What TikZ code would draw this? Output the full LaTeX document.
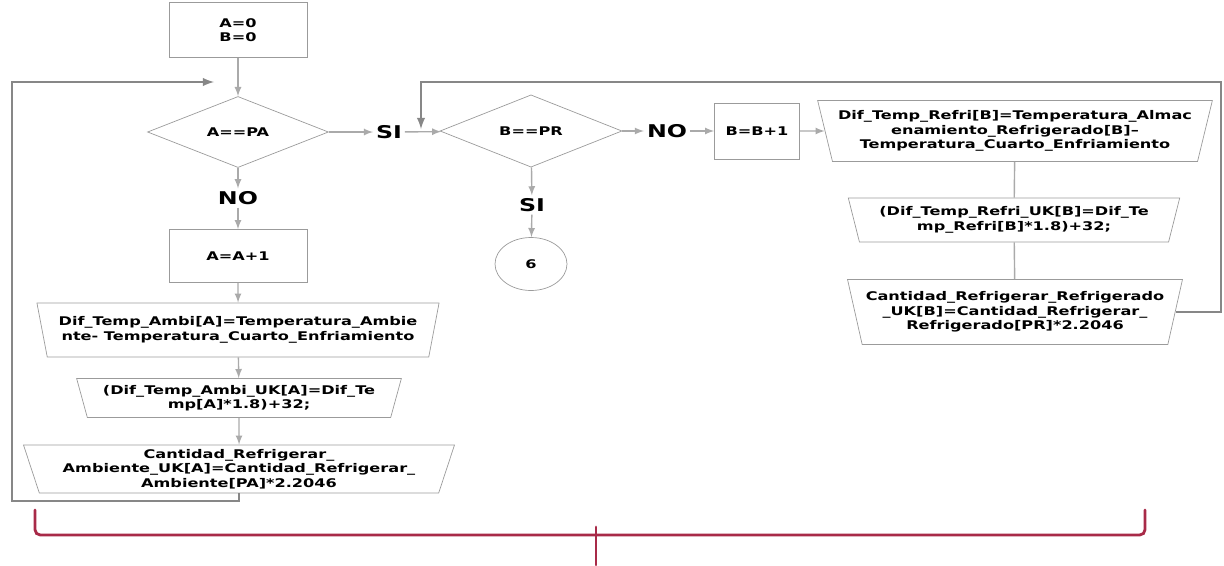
\documentclass[tikz,border=0pt]{standalone}
\usepackage{fontspec}
\setmainfont[FakeStretch=1.35]{DejaVu Sans}
\usetikzlibrary{shapes.geometric}
\definecolor{boxgray}{RGB}{155,155,155}
\definecolor{linegray}{RGB}{170,170,170}
\definecolor{loopgray}{RGB}{135,135,135}
\definecolor{bracered}{RGB}{168,42,72}
\tikzset{
  proc/.style={draw=boxgray,rectangle,inner sep=0pt,align=center,font=\fontsize{6.8}{8.2}\selectfont\bfseries},
  cond/.style={draw=boxgray,diamond,inner sep=0pt,align=center,font=\fontsize{6.8}{8.2}\selectfont\bfseries},
  manual/.style={draw=boxgray,trapezium,trapezium left angle=72,trapezium right angle=72,
    shape border rotate=180,trapezium stretches=true,inner xsep=0pt,inner ysep=1pt,align=center,
    font=\fontsize{6.8}{8.2}\selectfont\bfseries},
  fin/.style={draw=boxgray,ellipse,minimum width=1.44cm,minimum height=1.06cm,inner sep=0pt,
    font=\fontsize{6.8}{8.2}\selectfont\bfseries},
  etiq/.style={inner sep=1.5pt,font=\fontsize{10}{12}\selectfont\bfseries},
  flecha/.style={->,draw=linegray,line width=0.8pt},
  enlace/.style={draw=linegray,line width=0.8pt},
  lazo/.style={->,draw=loopgray,line width=1.2pt},
  llave/.style={draw=bracered,line width=1.6pt,line cap=round},
}
\begin{document}
\begin{tikzpicture}[x=0.02cm,y=-0.02cm,>=latex]
  \useasboundingbox (0,0) rectangle (1224,565);
  % ciclo A
  \node[proc,minimum width=2.76cm,minimum height=1.1cm] (ini) at (238,30) {A=0\\B=0};
  \node[cond,minimum width=3.62cm,minimum height=1.4cm] (pregA) at (238,132) {A==PA};
  \node[etiq] (siA) at (389,132) {SI};
  \node[etiq] (noA) at (238,198) {NO};
  \node[proc,minimum width=2.76cm,minimum height=1.06cm] (incA) at (238,256) {A=A+1};
  \node[manual,minimum width=8.06cm,minimum height=1.08cm] (difA) at (238,330)
    {Dif\_Temp\_Ambi[A]=Temperatura\_Ambie\\nte- Temperatura\_Cuarto\_Enfriamiento};
  \node[manual,minimum width=6.5cm,minimum height=0.78cm] (ukA) at (239,398)
    {(Dif\_Temp\_Ambi\_UK[A]=Dif\_Te\\mp[A]*1.8)+32;};
  \node[manual,minimum width=8.64cm,minimum height=0.96cm] (cantA) at (239,469)
    {Cantidad\_Refrigerar\_\\Ambiente\_UK[A]=Cantidad\_Refrigerar\_\\Ambiente[PA]*2.2046};
  % ciclo B
  \node[cond,minimum width=3.64cm,minimum height=1.44cm] (pregB) at (531,131) {B==PR};
  \node[etiq] (noB) at (667,131) {NO};
  \node[etiq] (siB) at (532,205) {SI};
  \node[fin] (fin6) at (531,264) {6};
  \node[proc,minimum width=1.7cm,minimum height=1.12cm] (incB) at (757,131) {B=B+1};
  \node[manual,minimum width=7.92cm,minimum height=1.22cm] (difB) at (1015,131)
    {Dif\_Temp\_Refri[B]=Temperatura\_Almac\\enamiento\_Refrigerado[B]–\\Temperatura\_Cuarto\_Enfriamiento};
  \node[manual,minimum width=6.64cm,minimum height=0.88cm] (ukB) at (1014,220)
    {(Dif\_Temp\_Refri\_UK[B]=Dif\_Te\\mp\_Refri[B]*1.8)+32;};
  \node[manual,minimum width=6.72cm,minimum height=1.3cm] (cantB) at (1015,312)
    {Cantidad\_Refrigerar\_Refrigerado\\\_UK[B]=Cantidad\_Refrigerar\_\\Refrigerado[PR]*2.2046};
  % flechas
  \draw[flecha] (ini) -- (pregA);
  \draw[flecha] (pregA) -- (siA);
  \draw[flecha] (siA) -- (pregB);
  \draw[flecha] (pregA) -- (noA);
  \draw[flecha] (noA) -- (incA);
  \draw[flecha] (incA) -- (difA);
  \draw[flecha] (difA) -- (ukA);
  \draw[flecha] (ukA) -- (cantA);
  \draw[flecha] (pregB) -- (noB);
  \draw[flecha] (noB) -- (incB);
  \draw[flecha] (incB) -- (difB.west);
  \draw[flecha] (pregB) -- (siB);
  \draw[flecha] (siB) -- (fin6);
  \draw[enlace] (difB) -- (ukB);
  \draw[enlace] (ukB) -- (cantB);
  % retornos
  \coordinate (esqA) at (12,501);
  \coordinate (entA) at (214,82);
  \draw[lazo] (cantA.south) |- (esqA) |- (entA);
  \coordinate (esqB) at (1221,82);
  \coordinate (entB) at (421,129);
  \draw[lazo] (cantB.east) -| (esqB) -| (entB);
  % llave
  \coordinate (llI) at (35,510);
  \coordinate (llD) at (1145,510);
  \coordinate (llC) at (596,535);
  \draw[llave,rounded corners=3] (llI) |- (llC) -| (llD);
  \draw[llave] ([yshift=0.16cm]llC) -- (596,565);
\end{tikzpicture}
\end{document}
